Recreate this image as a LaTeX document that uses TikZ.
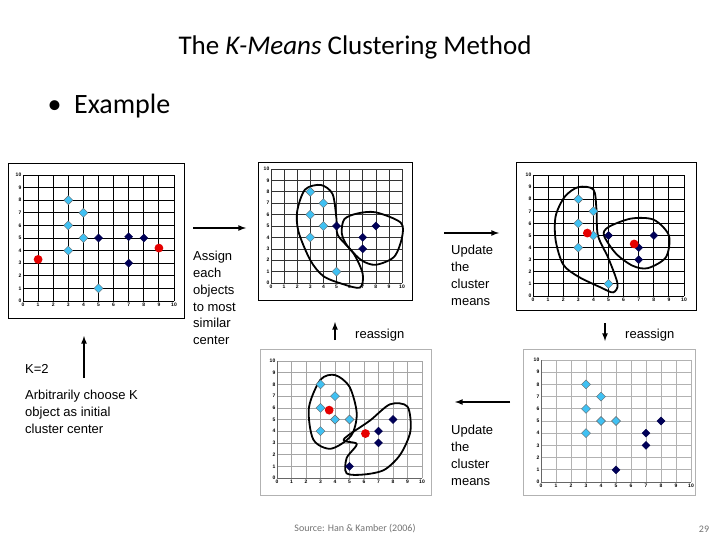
\documentclass[tikz,border=0pt]{standalone}
\usepackage{fontspec}
\setmainfont{Liberation Sans}
\newfontfamily\calfont{Carlito}
\newcommand\kcd[1]{\filldraw[cyanm] (#1) ++(0pt,4.5pt) -- ++(4.5pt,-4.5pt) -- ++(-4.5pt,-4.5pt) -- ++(-4.5pt,4.5pt) -- cycle;}
\newcommand\knd[1]{\filldraw[navym] (#1) ++(0pt,4pt) -- ++(4pt,-4pt) -- ++(-4pt,-4pt) -- ++(-4pt,4pt) -- cycle;}
\newcommand\krd[1]{\fill[redm] (#1) circle (4.4pt);}
\newcommand\kaxes{\foreach \i in {0,...,10}{\node[ticklbl,below] at (\i,0) {\i}; \node[ticklbl,left] at (0,\i) {\i};}}
\begin{document}
\begin{tikzpicture}[x=1pt,y=-1pt,
  lbl/.style={font=\fontsize{13}{16.8}\selectfont,align=left,anchor=north west,inner sep=0},
  ticklbl/.style={font=\fontsize{5}{5}\selectfont\bfseries,inner sep=1.5pt},
  cyanm/.style={fill=cyan!75,draw=black!60,line width=0.4pt},
  navym/.style={fill=blue!35!black,draw=blue!30!black,line width=0.4pt},
  redm/.style={fill=red!90!black},
  blob/.style={line width=1.8pt,draw=black},
  arr/.style={-latex,line width=1.6pt},
  frameb/.style={draw=black,line width=0.8pt,fill=white},
  frameg/.style={draw=black!30,line width=1pt,fill=white}]
\useasboundingbox (0,0) rectangle (720,540);
\node[font=\calfont\fontsize{27}{30}\selectfont] (title) at (355,47) {The \textit{K-Means} Clustering Method};
\node[font=\calfont\fontsize{28}{32}\selectfont,anchor=west] (ex) at (44,106) {\textbullet\ \ Example};
% plot 1
\draw[frameb] (8,163) rectangle (184,318);
\begin{scope}[shift={(23pt,-301pt)},x=15.1pt,y=12.6pt]
\draw[line width=0.9pt,step={(1,1)}] (0,0) grid (10,10);
\kaxes
\kcd{3,8}\kcd{4,7}\kcd{3,6}\kcd{4,5}\kcd{3,4}\kcd{5,1}
\knd{5,5}\knd{7,5.1}\knd{8,5}\knd{7,3}
\krd{1,3.3}\krd{9,4.2}
\end{scope}
% plot 2
\draw[frameb] (258,162) rectangle (412,300);
\begin{scope}[shift={(271pt,-283pt)},x=13.1pt,y=11.4pt]
\draw[line width=0.6pt,black!80,step={(1,1)}] (0,0) grid (10,10);
\kaxes
\draw[blob] plot[smooth cycle] coordinates {(2,6.3)(2.6,8.2)(3.8,8.6)(4.7,7.8)(5,5.6)(5.1,4.2)(6.3,2.6)(7,0.8)(6.8,-0.4)(5.5,-0.1)(4,0.6)(3,2)(2.1,4.5)};
\draw[blob] plot[smooth cycle] coordinates {(5.6,5.6)(6.6,6.1)(8,6.2)(9.9,5.3)(10,4)(9.4,2.3)(8,1.6)(6.9,2)(5.8,3.3)(5.4,4.4)};
\kcd{3,8}\kcd{4,7}\kcd{3,6}\kcd{4,5}\kcd{3,4}\kcd{5,1}
\knd{5,5}\knd{7,4}\knd{8,5}\knd{7,3}
\end{scope}
% plot 3
\draw[frameb] (516,162) rectangle (696,310);
\begin{scope}[shift={(533pt,-296pt)},x=15.1pt,y=12.1pt]
\draw[line width=0.9pt,step={(1,1)}] (0,0) grid (10,10);
\kaxes
\draw[blob] plot[smooth cycle] coordinates {(1.5,6.6)(2.1,8.2)(3,9)(4,8.8)(4.2,7.2)(4.3,5)(5,3.1)(5.6,1)(5.3,0.3)(4.5,0.7)(3,1.6)(2,2.6)(1.5,4.6)};
\draw[blob] plot[smooth cycle] coordinates {(5,5.7)(6.5,6.4)(8,6.3)(9,5)(8.8,3.2)(7.6,2.3)(6.6,2.5)(5.5,3.5)(4.7,5)};
\kcd{3,8}\kcd{4,7}\kcd{3,6}\kcd{4,5}\kcd{3,4}\kcd{5,1}
\knd{5,5}\knd{7,4}\knd{8,5}\knd{7,3}
\krd{3.6,5.2}\krd{6.7,4.3}
\end{scope}
% plot 4
\draw[frameg] (260,349) rectangle (431,495);
\begin{scope}[shift={(277pt,-478pt)},x=14.5pt,y=11.7pt]
\draw[line width=0.6pt,black!35,step={(1,1)}] (0,0) grid (10,10);
\draw[black!60] (0,0) -- (10,0) (0,0) -- (0,10);
\kaxes
\draw[blob] plot[smooth cycle] coordinates {(2.2,6)(3,8.4)(4,8.8)(5,7.8)(5.5,5.5)(5.1,3.6)(3.7,2.5)(2.5,3.3)};
\draw[blob] plot[smooth cycle] coordinates {(4.6,3.3)(6.4,4.9)(7.8,6.3)(9,6.1)(9.2,4)(8.5,2)(7.4,0.7)(6,0.3)(4.8,0.4)(4.8,1.7)(5.5,2.9)};
\kcd{3,8}\kcd{4,7}\kcd{3,6}\kcd{4,5}\kcd{5,5}\kcd{3,4}
\knd{8,5}\knd{7,4}\knd{7,3}\knd{5,1}
\krd{3.6,5.8}\krd{6.1,3.8}
\end{scope}
% plot 5
\draw[frameg] (523,349) rectangle (695,495);
\begin{scope}[shift={(541pt,-482pt)},x=15pt,y=12.2pt]
\draw[line width=0.9pt,black!30,step={(1,1)}] (0,0) grid (10,10);
\draw[black!60] (0,0) -- (10,0) (0,0) -- (0,10);
\kaxes
\kcd{3,8}\kcd{4,7}\kcd{3,6}\kcd{4,5}\kcd{5,5}\kcd{3,4}
\knd{8,5}\knd{7,4}\knd{7,3}\knd{5,1}
\end{scope}
% texts
\node[lbl] (assign) at (193,251) {Assign\\each\\objects\\to most\\similar\\center};
\node[lbl] (upd1) at (451,245) {Update\\the\\cluster\\means};
\node[lbl] (re1) at (355,329) {reassign};
\node[lbl] (re2) at (625,329) {reassign};
\node[lbl] (k2) at (25,364) {K=2};
\node[lbl] (arb) at (25,390) {Arbitrarily choose K\\object as initial\\cluster center};
\node[lbl] (upd2) at (451,425) {Update\\the\\cluster\\means};
\node[font=\calfont\fontsize{10}{12}\selectfont,text=black!55] (src) at (355,529) {Source: Han \& Kamber (2006)};
\node[font=\calfont\fontsize{10}{12}\selectfont,text=black!55] (pg) at (704,529) {29};
% arrows
\coordinate (a1s) at (193,228); \coordinate (a1e) at (246,228);
\coordinate (a2s) at (84,378); \coordinate (a2e) at (84,336);
\coordinate (a3s) at (444,233); \coordinate (a3e) at (499,233);
\coordinate (a4s) at (335,340); \coordinate (a4e) at (335,322);
\coordinate (a5s) at (605,323); \coordinate (a5e) at (605,341);
\coordinate (a6s) at (510,402); \coordinate (a6e) at (455,402);
\draw[arr] (a1s) -- (a1e);
\draw[arr] (a2s) -- (a2e);
\draw[arr] (a3s) -- (a3e);
\draw[arr] (a4s) -- (a4e);
\draw[arr] (a5s) -- (a5e);
\draw[arr] (a6s) -- (a6e);
\end{tikzpicture}
\end{document}
